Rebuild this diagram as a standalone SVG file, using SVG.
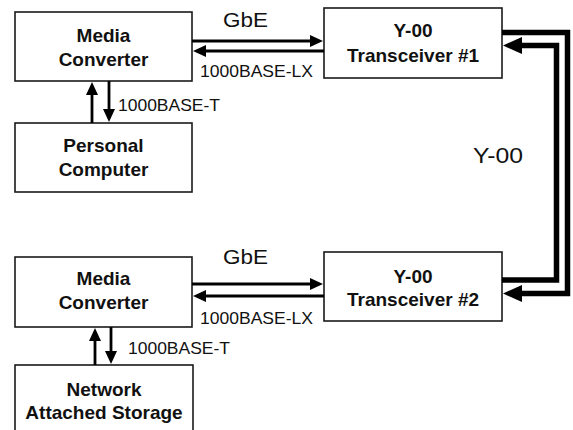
<svg xmlns="http://www.w3.org/2000/svg" width="573" height="430" viewBox="0 0 573 430">
<style>
.box{fill:#fff;stroke:#1a1a1a;stroke-width:1.6}
.bt{font-family:"Liberation Sans",Arial,sans-serif;font-weight:bold;font-size:19px;fill:#111;text-anchor:middle}
.lb{font-family:"Liberation Sans",Arial,sans-serif;fill:#111}
.thin{fill:none;stroke:#000;stroke-width:2.8}
.thick{fill:none;stroke:#000;stroke-width:5.5;stroke-linejoin:miter}
</style>
<defs>
<marker id="ah" markerUnits="userSpaceOnUse" markerWidth="13" markerHeight="12" refX="7" refY="6" orient="auto">
<path d="M0,0 L13,6 L0,12 z" fill="#000"/>
</marker>
<marker id="ahb" markerUnits="userSpaceOnUse" markerWidth="19" markerHeight="17" refX="11" refY="8.5" orient="auto">
<path d="M0,0 L19,8.5 L0,17 z" fill="#000"/>
</marker>
</defs>
<rect width="573" height="430" fill="#fff"/>
<g id="mc1"><rect class="box" x="15" y="12" width="177" height="69"/><text class="bt" x="103.5" y="42">Media</text><text class="bt" x="103.5" y="66">Converter</text></g>
<g id="pc"><rect class="box" x="15" y="123" width="177" height="69"/><text class="bt" x="103.5" y="152">Personal</text><text class="bt" x="103.5" y="176">Computer</text></g>
<g id="t1"><rect class="box" x="324" y="8" width="178" height="70"/><text class="bt" x="413" y="37">Y-00</text><text class="bt" x="413" y="62">Transceiver #1</text></g>
<g id="mc2"><rect class="box" x="15" y="257" width="177" height="70"/><text class="bt" x="103.5" y="285">Media</text><text class="bt" x="103.5" y="309">Converter</text></g>
<g id="t2"><rect class="box" x="324" y="252" width="178" height="69"/><text class="bt" x="413" y="283">Y-00</text><text class="bt" x="413" y="306">Transceiver #2</text></g>
<g id="nas"><rect class="box" x="15" y="365" width="178" height="70"/><text class="bt" x="104" y="396">Network</text><text class="bt" x="104" y="419">Attached Storage</text></g>
<g id="connectors">
<line class="thin" x1="192" y1="41" x2="317" y2="41" marker-end="url(#ah)"/>
<line class="thin" x1="324" y1="51" x2="199" y2="51" marker-end="url(#ah)"/>
<line class="thin" x1="92" y1="123" x2="92" y2="88" marker-end="url(#ah)"/>
<line class="thin" x1="109" y1="81" x2="109" y2="116" marker-end="url(#ah)"/>
<line class="thin" x1="192" y1="284" x2="317" y2="284" marker-end="url(#ah)"/>
<line class="thin" x1="324" y1="296" x2="199" y2="296" marker-end="url(#ah)"/>
<line class="thin" x1="95" y1="365" x2="95" y2="334" marker-end="url(#ah)"/>
<line class="thin" x1="111" y1="327" x2="111" y2="358" marker-end="url(#ah)"/>
<path class="thick" d="M502,32.5 H567.5 V293.5 H511" marker-end="url(#ahb)"/>
<path class="thick" d="M502,280 H556.5 V45.5 H511" marker-end="url(#ahb)"/>
</g>
<g id="labels">
<text class="lb" x="223" y="27" font-size="21" textLength="45" lengthAdjust="spacingAndGlyphs">GbE</text>
<text class="lb" x="200" y="77" font-size="17" textLength="113" lengthAdjust="spacingAndGlyphs">1000BASE-LX</text>
<text class="lb" x="118" y="111" font-size="17" textLength="102" lengthAdjust="spacingAndGlyphs">1000BASE-T</text>
<text class="lb" x="473" y="163" font-size="22" textLength="50" lengthAdjust="spacingAndGlyphs">Y-00</text>
<text class="lb" x="223" y="264" font-size="21" textLength="45" lengthAdjust="spacingAndGlyphs">GbE</text>
<text class="lb" x="200" y="324" font-size="17" textLength="113" lengthAdjust="spacingAndGlyphs">1000BASE-LX</text>
<text class="lb" x="128" y="354" font-size="17" textLength="102" lengthAdjust="spacingAndGlyphs">1000BASE-T</text>
</g>
</svg>
